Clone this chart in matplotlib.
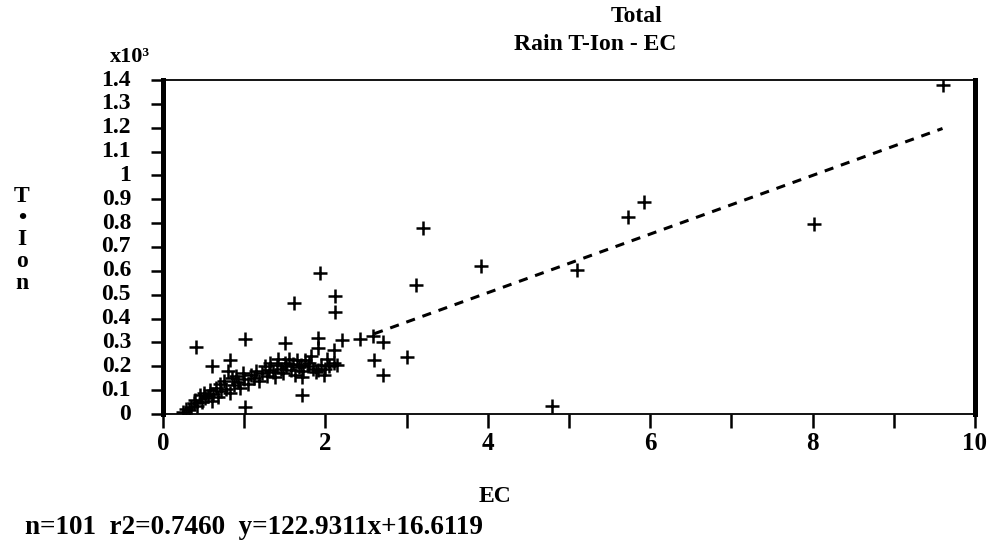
import numpy as np
import matplotlib
matplotlib.use("Agg")
from matplotlib import pyplot as plt
from matplotlib.ticker import MultipleLocator, FixedLocator, FuncFormatter

# EC and T-Ion values (T-Ion in raw units, axis is x10^3)
ecOut = [9.61, 8.02, 5.92, 5.73, 5.10, 3.92, 3.20, 3.12, 4.79, 2.43, 2.59,
         2.71, 2.60, 2.71, 3.00, 0.41, 1.93, 1.61, 2.12, 2.12, 1.01, 1.50,
         1.91, 2.20, 0.60, 0.83, 1.71, 1.01, 1.71, 1.91, 2.14, 1.91, 2.10]
tionOut = [1379, 796, 889, 826, 604, 621, 780, 540, 34, 314, 327,
           300, 226, 163, 239, 279, 592, 466, 494, 429, 313, 296,
           317, 310, 201, 226, 80, 31, 156, 184, 205, 275, 270]

# dense cluster near the origin
ecCluster = [0.25, 0.28, 0.32, 0.35, 0.38, 0.40, 0.42, 0.45, 0.48, 0.50,
             0.52, 0.55, 0.58, 0.60, 0.62, 0.65, 0.68, 0.70, 0.72, 0.75,
             0.78, 0.80, 0.82, 0.85, 0.88, 0.90, 0.92, 0.95, 0.98, 1.00,
             1.05, 1.08, 1.12, 1.15, 1.18, 1.22, 1.25, 1.28, 1.30, 1.32,
             1.35, 1.38, 1.40, 1.42, 1.45, 1.48, 1.50, 1.52, 1.55, 1.58,
             1.60, 1.62, 1.65, 1.68, 1.70, 1.72, 1.75, 1.78, 1.80, 1.82,
             1.85, 1.88, 1.95, 1.98, 2.00, 2.02, 2.05, 2.10]
tionCluster = [10, 20, 15, 30, 45, 60, 35, 80, 50, 90,
               65, 75, 100, 55, 85, 110, 70, 125, 95, 140,
               105, 180, 90, 150, 120, 160, 135, 110, 170, 145,
               125, 165, 150, 180, 140, 170, 200, 160, 185, 215,
               175, 155, 205, 230, 190, 170, 215, 200, 230, 185,
               210, 165, 225, 195, 205, 180, 225, 200, 215, 245,
               190, 175, 205, 165, 190, 230, 200, 215]

# regression from the footnote
slope = 122.9311
intercept = 16.6119
fitRange = [2.6, 9.6]

xTicks = [0, 2, 4, 6, 8, 10]
footText = "n=101  r2=0.7460  y=122.9311x+16.6119"

fontName = ["Liberation Serif", "DejaVu Serif"]
plt.rcParams['font.family'] = fontName
plt.rcParams['font.weight'] = 'bold'

fig = plt.figure(figsize=(9.92, 5.53), dpi=100)
ax = fig.add_axes([163/992, 1 - 414/553, (975-163)/992, (414-80)/553])

ec = np.array(ecOut + ecCluster)
tion = np.array(tionOut + tionCluster) / 1000.0

ax.plot(ec, tion, linestyle='none', marker='+', markersize=10,
        markeredgewidth=1.8, color='black', zorder=3)

fitX = np.array(fitRange)
fitY = (slope * fitX + intercept) / 1000.0
ax.plot(fitX, fitY, color='black', linewidth=2.2, dashes=(3, 2.6), zorder=2)

ax.set_xlim(0, 10)
ax.set_ylim(0, 1.4)

#axis frame: heavy sides, thin top/bottom
ax.spines['left'].set_linewidth(3.6)
ax.spines['right'].set_linewidth(3.6)
ax.spines['top'].set_linewidth(1.3)
ax.spines['bottom'].set_linewidth(1.3)

ax.xaxis.set_major_locator(FixedLocator(xTicks))
ax.xaxis.set_minor_locator(MultipleLocator(1))
ax.set_xticklabels([str(t) for t in xTicks])
ax.tick_params(axis='x', which='both', direction='out', length=10,
               width=1.8, pad=3, labelsize=18)

ax.yaxis.set_major_locator(MultipleLocator(0.1))
def yfmt(v, pos):
    v = round(v, 1)
    if v == 0:
        return "0"
    if v == 1:
        return "1"
    return "%.1f" % v
ax.yaxis.set_major_formatter(FuncFormatter(yfmt))
ax.tick_params(axis='y', which='major', direction='out', length=9,
               width=1.8, pad=14, labelsize=17)
for lab in ax.get_yticklabels():
    lab.set_verticalalignment('center')

fig.text(130/992, 1 - 57/553, "x10³", ha='center', va='center', fontsize=16)
fig.text(22/992, 1 - 240/553, "T\n•\nI\no\nn", ha='center', va='center',
         fontsize=17, linespacing=1.05)

fig.text(637/992, 1 - 16/553, "Total", ha='center', va='center', fontsize=17)
fig.text(676/992, 1 - 45/553, "Rain T-Ion - EC", ha='right', va='center',
         fontsize=17)

fig.text(495/992, 1 - 497/553, "EC", ha='center', va='center', fontsize=17)
fig.text(25/992, 1 - 527/553, footText, ha='left', va='center', fontsize=19.5)

fig.savefig("out.png", dpi=100)
